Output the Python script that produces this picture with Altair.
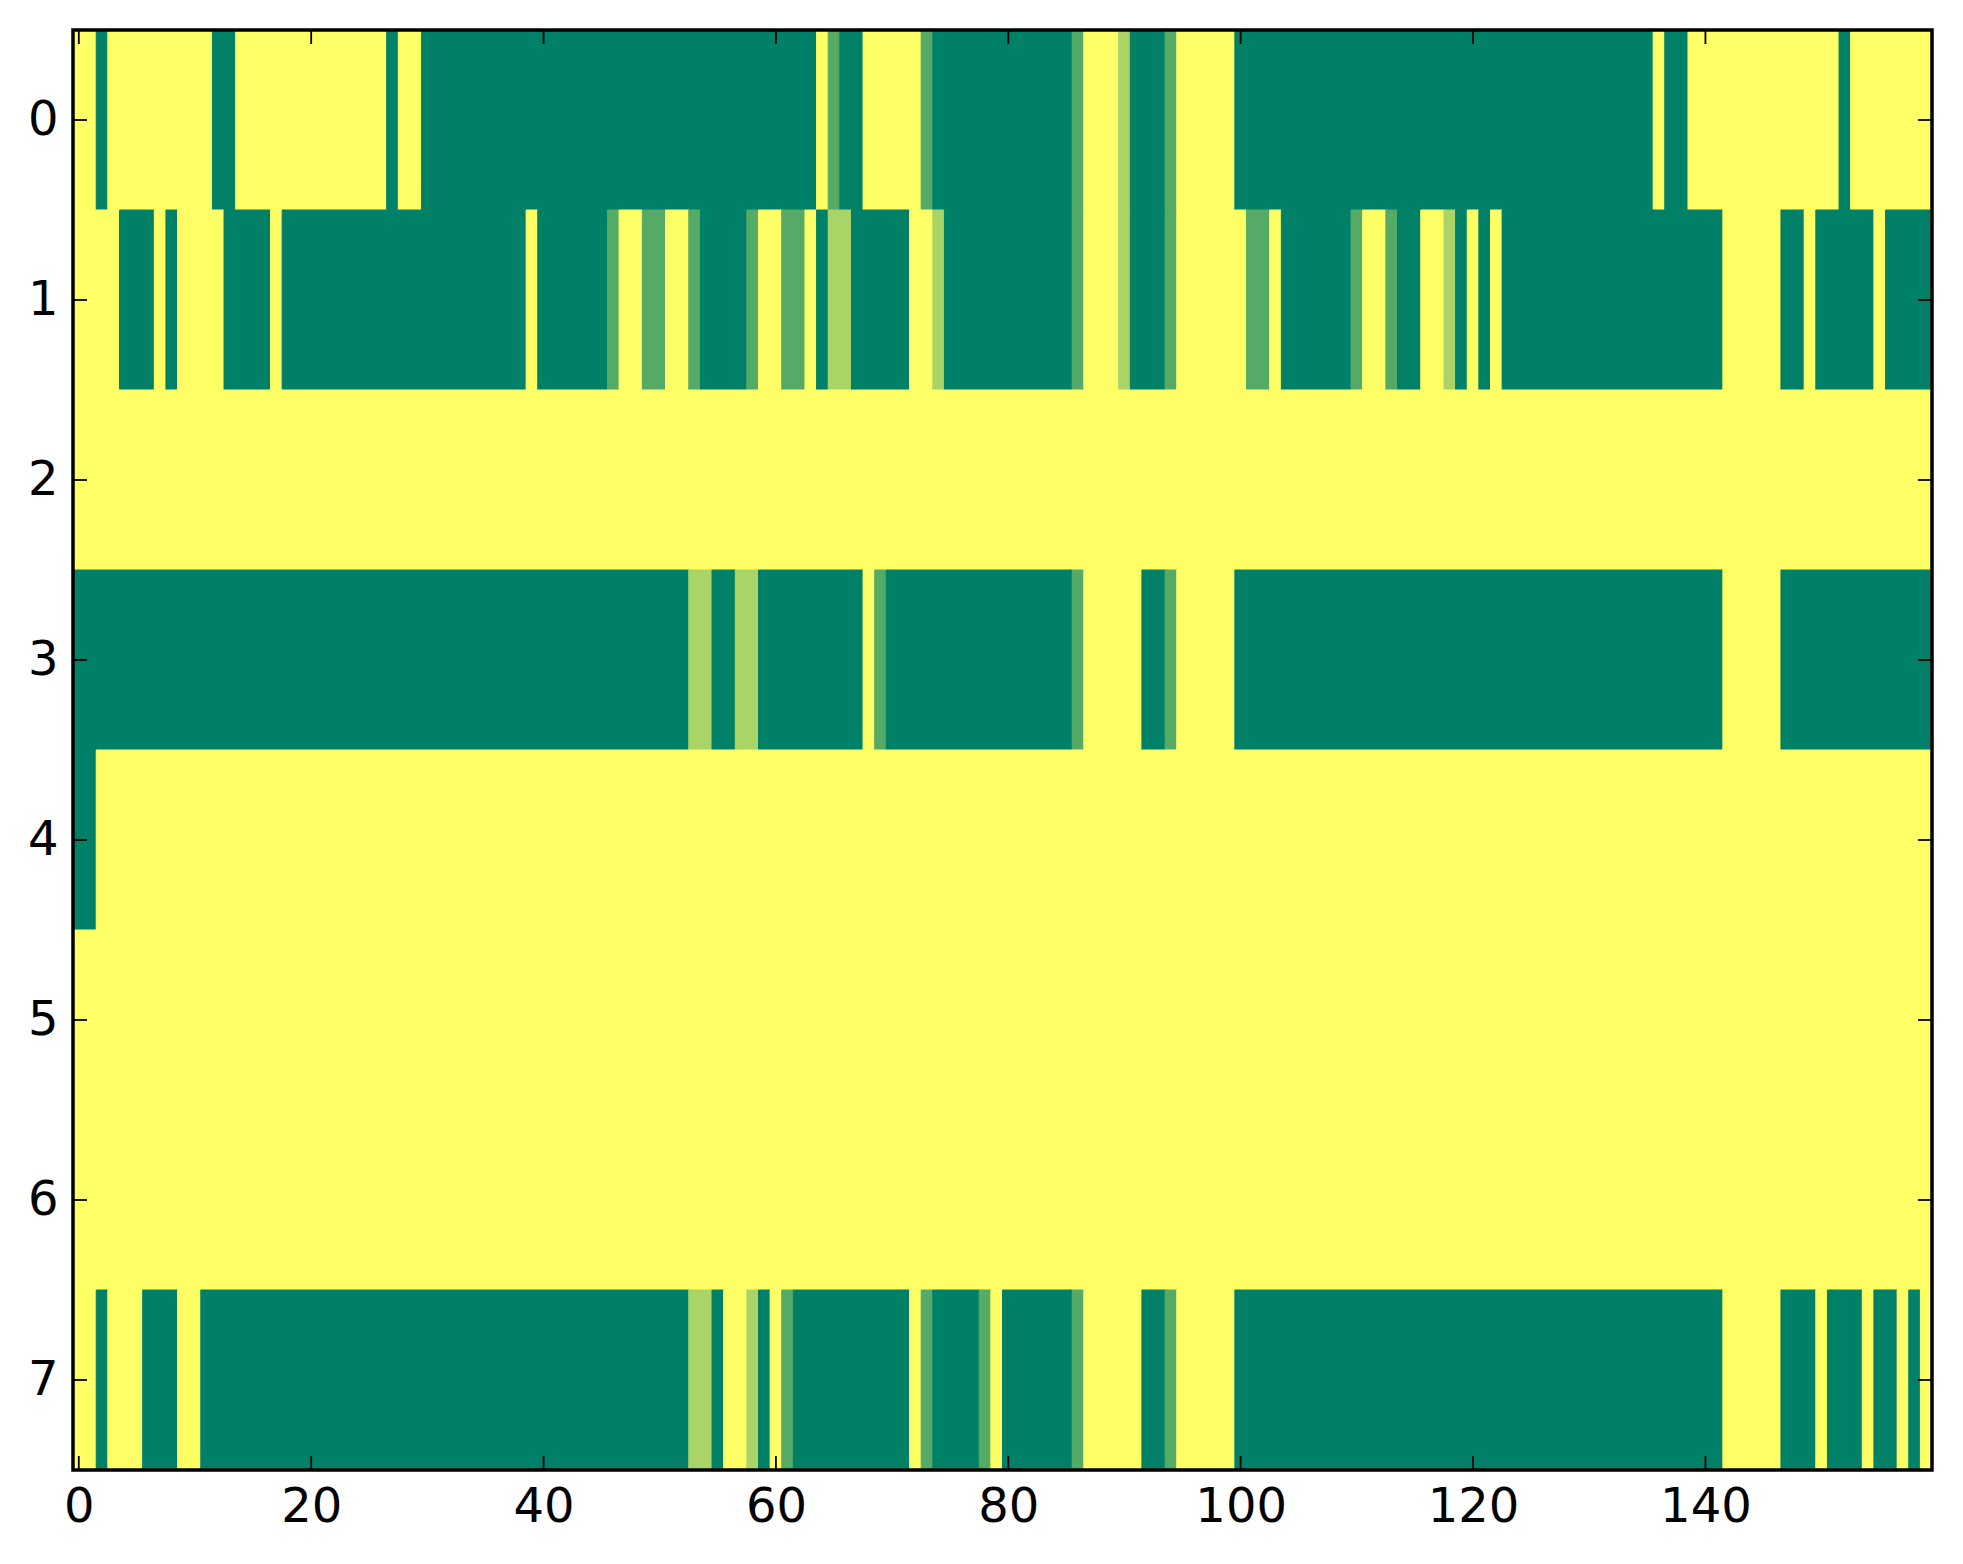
import altair as alt
import pandas as pd

# Colour level per run: value = level / 3  (0 = dark green, 3 = yellow)
# Each row is a list of (level, run_length) pairs, 160 columns per row.
row0_runs = [(3, 2), (0, 1), (3, 9), (0, 2), (3, 13), (0, 1), (3, 2), (0, 34), (3, 1), (1, 1),
             (0, 2), (3, 5), (1, 1), (0, 12), (1, 1), (3, 3), (2, 1), (0, 3), (1, 1), (3, 5),
             (0, 36), (3, 1), (0, 2), (3, 13), (0, 1), (3, 7)]
row1_runs = [(3, 4), (0, 3), (3, 1), (0, 1), (3, 4), (0, 4), (3, 1), (0, 21), (3, 1), (0, 6),
             (1, 1), (3, 2), (1, 2), (3, 2), (1, 1), (0, 4), (1, 1), (3, 2), (1, 2), (3, 1),
             (0, 1), (2, 2), (0, 5), (3, 2), (2, 1), (0, 11), (1, 1), (3, 3), (2, 1), (0, 3),
             (1, 1), (3, 6), (1, 2), (3, 1), (0, 6), (1, 1), (3, 2), (1, 1), (0, 2), (3, 2),
             (2, 1), (0, 1), (3, 1), (0, 1), (3, 1), (0, 19), (3, 5), (0, 2), (3, 1), (0, 5),
             (3, 1), (0, 4)]
row2_runs = [(3, 160)]
row3_runs = [(0, 53), (2, 2), (0, 2), (2, 2), (0, 9), (3, 1), (1, 1), (0, 16), (1, 1), (3, 5),
             (0, 2), (1, 1), (3, 5), (0, 42), (3, 5), (0, 13)]
row4_runs = [(0, 2), (3, 158)]
row5_runs = [(3, 160)]
row6_runs = [(3, 160)]
row7_runs = [(3, 2), (0, 1), (3, 3), (0, 3), (3, 2), (0, 42), (2, 2), (0, 1), (3, 2), (2, 1),
             (0, 1), (3, 1), (1, 1), (0, 10), (3, 1), (1, 1), (0, 4), (1, 1), (3, 1), (0, 6),
             (1, 1), (3, 5), (0, 2), (1, 1), (3, 5), (0, 42), (3, 5), (0, 3), (3, 1), (0, 3),
             (3, 1), (0, 2), (3, 1), (0, 1), (3, 1)]

rows = [row0_runs, row1_runs, row2_runs, row3_runs, row4_runs, row5_runs, row6_runs, row7_runs]

x_ticks = [0, 20, 40, 60, 80, 100, 120, 140]
y_ticks = [0, 1, 2, 3, 4, 5, 6, 7]

recs = []
for r, runs in enumerate(rows):
    c = 0
    for level, n in runs:
        recs.append({"x": c - 0.5, "x2": c + n - 0.5, "y": r - 0.5, "y2": r + 0.5, "v": level / 3})
        c += n
    assert c == 160, (r, c)
df = pd.DataFrame(recs)

W, H = 1859, 1440
TL = 14
FONT = "DejaVu Sans"
FS = 48

cscale = alt.Scale(domain=[0, 1], range=["#008066", "#ffff66"], interpolate="rgb")
xscale = alt.Scale(domain=[-0.5, 159.5], nice=False, zero=False)
yscale = alt.Scale(domain=[-0.5, 7.5], nice=False, zero=False, reverse=True)

heat = alt.Chart(df).mark_rect(strokeWidth=1).encode(
    x=alt.X("x:Q", scale=xscale,
            axis=alt.Axis(values=x_ticks, title=None, ticks=False, domain=False, grid=False,
                          labelFont=FONT, labelFontSize=FS, labelColor="black",
                          labelPadding=13, labelFlush=False)),
    x2="x2:Q",
    y=alt.Y("y:Q", scale=yscale,
            axis=alt.Axis(values=y_ticks, title=None, ticks=False, domain=False, grid=False,
                          labelFont=FONT, labelFontSize=FS, labelColor="black",
                          labelPadding=15, minExtent=57, maxExtent=57, labelFlush=False)),
    y2="y2:Q",
    color=alt.Color("v:Q", scale=cscale, legend=None),
    stroke=alt.Stroke("v:Q", scale=cscale, legend=None),
)

xt = pd.DataFrame({"t": x_ticks})
yt = pd.DataFrame({"t": y_ticks})

bottom_ticks = alt.Chart(xt).mark_rule(color="black", strokeWidth=1.8).encode(
    x=alt.X("t:Q", axis=None), y=alt.value(H - TL), y2=alt.value(H))
top_ticks = alt.Chart(xt).mark_rule(color="black", strokeWidth=1.8).encode(
    x=alt.X("t:Q", axis=None), y=alt.value(0), y2=alt.value(TL))
left_ticks = alt.Chart(yt).mark_rule(color="black", strokeWidth=1.8).encode(
    y=alt.Y("t:Q", axis=None), x=alt.value(0), x2=alt.value(TL))
right_ticks = alt.Chart(yt).mark_rule(color="black", strokeWidth=1.8).encode(
    y=alt.Y("t:Q", axis=None), x=alt.value(W - TL), x2=alt.value(W))

frame = alt.Chart(pd.DataFrame({"f": [0]})).mark_rect(
    filled=False, stroke="black", strokeWidth=3.5
).encode(x=alt.value(0), x2=alt.value(W), y=alt.value(0), y2=alt.value(H))

chart = alt.layer(heat, bottom_ticks, top_ticks, left_ticks, right_ticks, frame).resolve_axis(
    x="independent", y="independent"
).properties(
    width=W, height=H,
    background="white",
    padding={"left": 8, "top": 20, "right": 10, "bottom": 10},
).configure_view(stroke=None)

chart.save("out.html", embed_options={"renderer": "svg", "actions": False})
